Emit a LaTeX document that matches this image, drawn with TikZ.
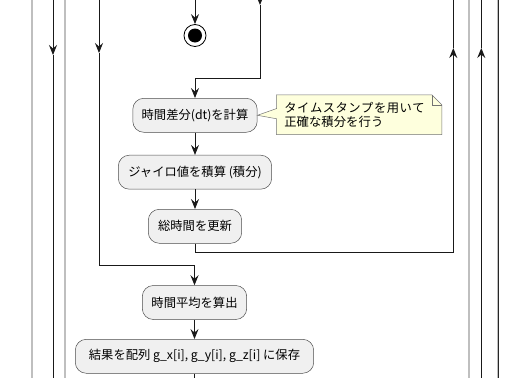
\documentclass[tikz,border=0pt]{standalone}
\usepackage{fontspec}
\setmainfont{Noto Sans CJK JP}
\usetikzlibrary{arrows.meta}
\newcommand\fwa[1]{\makebox[12.8pt]{#1}}
\newcommand\fwb[1]{\makebox[12.4pt]{#1}}
\begin{document}
\begin{tikzpicture}[x=1pt,y=-1pt,
  act/.style={draw=black!70, line width=0.5pt, fill=black!6, rounded corners=11pt, minimum height=34pt, inner sep=0pt, font=\fontsize{12.3}{14}\selectfont},
  flow/.style={line width=0.9pt, draw=black!90},
  arr/.style={flow, -{Stealth[length=10pt,width=8pt,inset=3.5pt]}},
  dbl/.style={draw=black!85, line width=0.6pt, double=black!25, double distance=1.1pt},
  notebox/.style={inner sep=0pt, minimum width=165pt, minimum height=39.3pt},
]
\useasboundingbox (0,0) rectangle (507,378);

% frame lines
\foreach \xx in {32,65,469,497.7} \draw[dbl] (\xx,-2) -- (\xx,380);

% nodes
\node[circle, draw=black, line width=0.8pt, minimum size=22pt, inner sep=0pt, fill=white] (stop) at (195,35.5) {};
\fill (stop.center) circle (7);

\node[act, minimum width=124.4pt] (b1) at (195,115.3) {時間差分(dt)を計算};
\node[act, minimum width=153.4pt] (b2) at (195,172.2) {ジャイロ値を積算 (積分)};
\node[act, minimum width=93.4pt]  (b3) at (195,226.3) {総時間を更新};
\node[act, minimum width=104.4pt] (b4) at (194.5,302.5) {時間平均を算出};
\node[act, minimum width=238.4pt] (b5) at (194.5,356.3) {結果を配列 g\_x[i], g\_y[i], g\_z[i] に保存};

% note
\node[notebox] (note) at (359.2,114.7) {};
\fill[fill={rgb,255:red,254;green,255;blue,221}, draw=black!55, line width=0.5pt]
  (note.north west) -- ([xshift=-10pt]note.north east) -- ([yshift=-10pt]note.north east)
  -- (note.south east) -- (note.south west) -- (276.7,118.8) -- (b1.east) -- (276.7,108.5) -- cycle;
\draw[draw=black!55, line width=0.5pt] ([xshift=-10pt]note.north east) -- ([xshift=-10pt,yshift=-10pt]note.north east) -- ([yshift=-10pt]note.north east);
\node[anchor=west, align=left, inner sep=0pt, font=\fontsize{12.3}{14.5}\selectfont] (notetext) at ([xshift=7.5pt]note.west)
  {\fwa{タ}\fwa{イ}\fwa{ム}\fwa{ス}\fwa{タ}\fwa{ン}\fwa{プ}\fwa{を}\fwa{用}\fwa{い}\fwa{て}\\
   \fwb{正}\fwb{確}\fwb{な}\fwb{積}\fwb{分}\fwb{を}\fwb{行}\fwb{う}};

% coordinates for free ends
\coordinate (c195top) at (195,0);
\coordinate (c260top) at (260,-2);
\coordinate (c260a) at (260,5);
\coordinate (c260b) at (260,78);
\coordinate (c99top) at (99,-2);
\coordinate (c99a) at (99,53);
\coordinate (c99b) at (99,265);
\coordinate (c53top) at (53,-2);
\coordinate (c53a) at (53,55);
\coordinate (c53bot) at (53,380);
\coordinate (c453top) at (453.3,-2);
\coordinate (c453a) at (453.3,48);
\coordinate (c453b) at (453.3,252.7);
\coordinate (c481top) at (481.3,-2);
\coordinate (c481a) at (481.3,48);
\coordinate (c481bot) at (481.3,380);
\coordinate (c195bot) at (194.5,380);

% connectors
\draw[arr] (c195top) -- (stop.north);
\draw[arr] (c260top) -- (c260a);
\draw[arr] (c260a) -- (c260b) -| (b1.north);
\draw[arr] (b1) -- (b2);
\draw[arr] (b2) -- (b3);
\draw[arr] (b3.south) |- (c453b) -- (c453a);
\draw[flow] (c453a) -- (c453top);
\draw[arr] (c99top) -- (c99a);
\draw[arr] (c99a) -- (c99b) -| (b4.north);
\draw[arr] (b4) -- (b5);
\draw[flow] (b5) -- (c195bot);
\draw[arr] (c53top) -- (c53a);
\draw[flow] (c53a) -- (c53bot);
\draw[arr] (c481bot) -- (c481a);
\draw[flow] (c481a) -- (c481top);
\end{tikzpicture}
\end{document}
